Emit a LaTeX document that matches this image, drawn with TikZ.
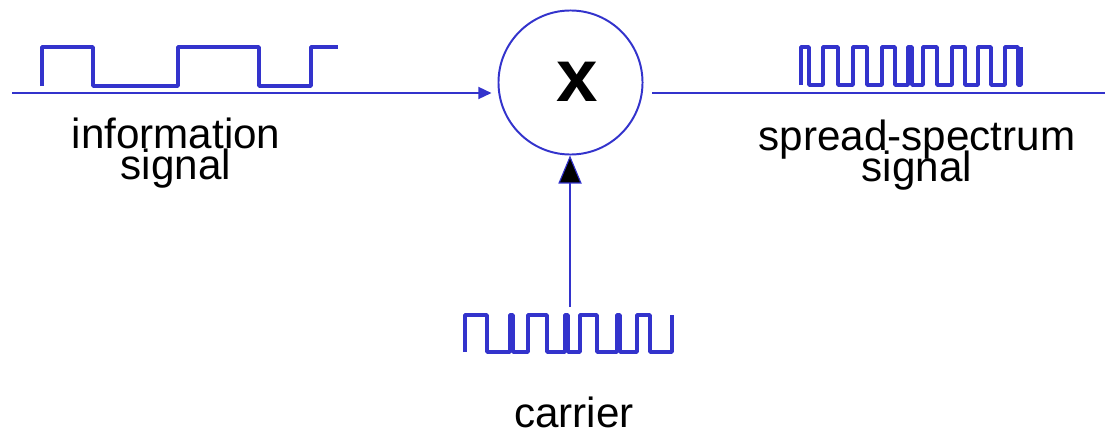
\documentclass[tikz,border=0pt]{standalone}
\usepackage{fontspec}
\setmainfont{Liberation Sans}
\usetikzlibrary{arrows.meta}
\definecolor{sigblue}{RGB}{51,51,204}
\setlength{\lineskiplimit}{-100pt}
\tikzset{
  wave/.style={sigblue, line width=2.6pt, line join=round},
  link/.style={sigblue, line width=1.4pt},
  lbl/.style={font=\fontsize{30}{22}\selectfont, align=center, inner sep=0pt},
}

\begin{document}
\begin{tikzpicture}[x=0.025cm, y=-0.025cm]
		\useasboundingbox (0,0) rectangle (1117,434);
		\def\hi{47}
		\def\lo{86}
		\def\chi{315}
		\def\clo{352}
		% mixer
		\node[circle, draw=sigblue, line width=1.4pt, minimum size=3.6cm, inner sep=0pt] (mult) at (570.5,82.5) {};
		\node[font=\fontsize{53}{53}\selectfont\bfseries, inner sep=0pt] (times) at (577,82) {x};
		% information signal in
		\coordinate (infrom) at (12,93);
		\draw[link, -{Triangle[length=0.33cm, width=0.3cm]}, shorten >=0.15cm] (infrom) -- (infrom -| mult.west);
		% spread-spectrum signal out
		\coordinate (outto) at (1105,93);
		\draw[link, shorten <=0.22cm] (mult.east |- outto) -- (outto);
		% carrier in
		\coordinate (carfrom) at (570,307);
		\draw[sigblue, line width=2pt, -{Triangle[length=0.7cm, width=0.58cm, line width=0.8pt, fill=black]}] (carfrom) -- (carfrom |- mult.south);
		% waveforms
		\draw[wave] (42,\lo) \foreach \x/\y in {93/\hi, 178/\lo, 259/\hi, 311/\lo, 338/\hi} { |- (\x,\y) };
		\draw[wave] (801,85) \foreach \x/\y in {809/\hi, 823/85, 838/\hi, 853/85, 867/\hi, 882/85, 895/\hi, 908/85, 912/\hi, 923/85, 937/\hi, 952/85, 965/\hi, 978/85, 991/\hi, 1005/85, 1018/\hi, 1021/85} { |- (\x,\y) } -- (1021,\hi);
		\draw[wave] (465,\clo) \foreach \x/\y in {487/\chi, 510/\clo, 513/\chi, 528/\clo, 547/\chi, 565/\clo, 568/\chi, 580/\clo, 597/\chi, 617/\clo, 620/\chi, 637/\clo, 650/\chi, 672/\clo} { |- (\x,\y) } -- (672,\chi);
		% labels
		\node[lbl, anchor=north] (info) at (176,118) {information\\signal};
		\node[lbl, anchor=north] (spread) at (917,120) {spread-spectrum\\signal};
		\node[lbl, anchor=base] (carrier) at (574,427) {carrier};
\end{tikzpicture}
\end{document}
